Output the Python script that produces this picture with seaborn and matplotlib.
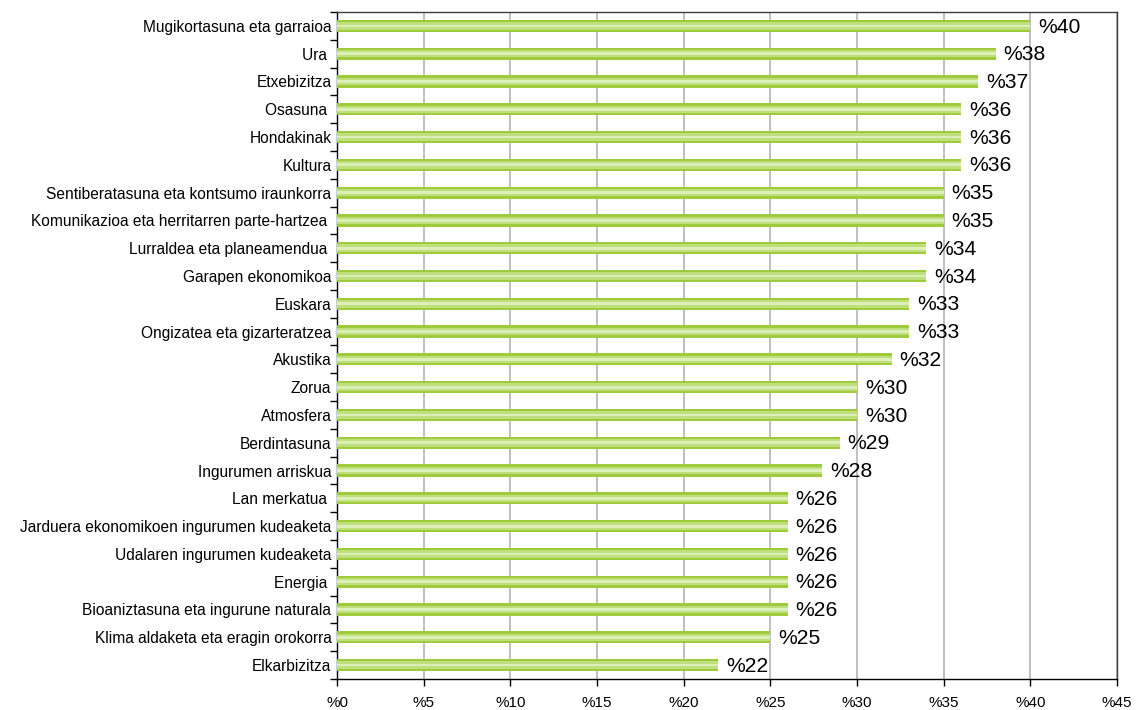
import matplotlib
matplotlib.use("Agg")
import matplotlib.pyplot as plt
import seaborn as sns
import pandas as pd

categories = [
    "Mugikortasuna eta garraioa", "Ura ", "Etxebizitza", "Osasuna ", "Hondakinak",
    "Kultura", "Sentiberatasuna eta kontsumo iraunkorra",
    "Komunikazioa eta herritarren parte-hartzea ", "Lurraldea eta planeamendua ",
    "Garapen ekonomikoa", "Euskara", "Ongizatea eta gizarteratzea", "Akustika",
    "Zorua", "Atmosfera", "Berdintasuna", "Ingurumen arriskua", "Lan merkatua ",
    "Jarduera ekonomikoen ingurumen kudeaketa", "Udalaren ingurumen kudeaketa",
    "Energia ", "Bioaniztasuna eta ingurune naturala",
    "Klima aldaketa eta eragin orokorra", "Elkarbizitza",
]
values = [40, 38, 37, 36, 36, 36, 35, 35, 34, 34, 33, 33, 32, 30, 30, 29, 28,
          26, 26, 26, 26, 26, 25, 22]
x_ticks = list(range(0, 50, 5))

df = pd.DataFrame({"gaia": categories, "ehunekoa": values})

sns.set_style("white")
plt.rcParams["font.family"] = ["Liberation Sans", "DejaVu Sans"]

fig = plt.figure(figsize=(11.36, 7.10), dpi=100)
ax = fig.add_axes([0.2967, 0.0437, 0.6866, 0.9394])

# three stacked layers give the striped/gradient look of the bars
for w, col in [(0.44, "#9ecb3c"), (0.27, "#bfdf7c"), (0.1, "#dcefb8")]:
    sns.barplot(data=df, x="ehunekoa", y="gaia", orient="h", color=col,
                width=w, saturation=1, linewidth=0, ax=ax, zorder=3)

for i, v in enumerate(values):
    ax.text(v + 0.45, i + 0.04, f"%{v}", va="center", ha="left", fontsize=15.2,
            color="black")

ax.set_xlim(0, 45)
ax.set_ylim(len(categories) - 0.5, -0.5)
ax.set_xticks(x_ticks)
ax.set_xticklabels([f"%{t}" for t in x_ticks], fontsize=11, color="black")
ax.set_yticks(range(len(categories)))
ax.set_yticklabels(categories, fontsize=11.2, color="black")
ax.set_xlabel("")
ax.set_ylabel("")

ax.xaxis.grid(True, color="#b4b4b4", linewidth=1.2, zorder=0)
ax.set_axisbelow(True)

# tick marks between categories on the y axis
ax.set_yticks([i + 0.5 for i in range(-1, len(categories))], minor=True)
ax.tick_params(axis="y", which="major", length=0, pad=4)
ax.tick_params(axis="y", which="minor", length=5, width=1, color="black", direction="out", left=True)
ax.tick_params(axis="x", which="major", length=5, width=1, color="black", direction="out", bottom=True, pad=7)

for side in ["left", "bottom"]:
    ax.spines[side].set_color("black")
    ax.spines[side].set_linewidth(1)
for side in ["top", "right"]:
    ax.spines[side].set_color("#404040")
    ax.spines[side].set_linewidth(1)

fig.savefig("out.png", dpi=100)
